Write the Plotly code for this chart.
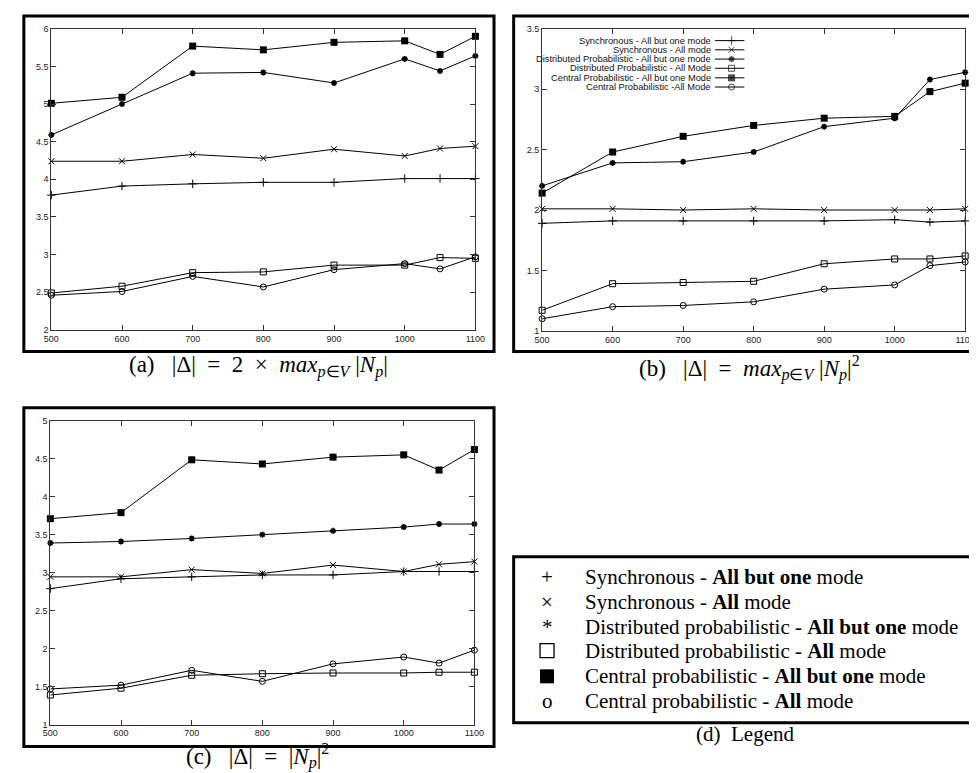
import plotly.graph_objects as go

# ---------------- data ----------------
x_nodes = [500, 600, 700, 800, 900, 1000, 1050, 1100]
x_ticks = [500, 600, 700, 800, 900, 1000, 1100]

# panel (a)  |Δ| = 2 × max |Np|
a_sync_abo = [3.79, 3.91, 3.94, 3.96, 3.96, 4.01, 4.01, 4.01]
a_sync_all = [4.24, 4.24, 4.33, 4.28, 4.40, 4.31, 4.41, 4.44]
a_dist_abo = [4.59, 5.00, 5.41, 5.42, 5.28, 5.60, 5.44, 5.64]
a_dist_all = [2.49, 2.58, 2.76, 2.77, 2.86, 2.86, 2.96, 2.95]
a_cent_abo = [5.01, 5.09, 5.77, 5.72, 5.82, 5.84, 5.66, 5.90]
a_cent_all = [2.46, 2.51, 2.71, 2.57, 2.80, 2.88, 2.81, 2.97]

# panel (b)  |Δ| = max |Np|^2
b_sync_abo = [1.89, 1.91, 1.91, 1.91, 1.91, 1.92, 1.90, 1.91]
b_sync_all = [2.01, 2.01, 2.00, 2.01, 2.00, 2.00, 2.00, 2.01]
b_dist_abo = [2.20, 2.39, 2.40, 2.48, 2.69, 2.76, 3.08, 3.14]
b_dist_all = [1.17, 1.39, 1.40, 1.41, 1.555, 1.595, 1.595, 1.62]
b_cent_abo = [2.14, 2.48, 2.61, 2.70, 2.76, 2.775, 2.98, 3.05]
b_cent_all = [1.10, 1.20, 1.21, 1.24, 1.345, 1.38, 1.54, 1.57]

# panel (c)  |Δ| = |Np|^2
c_sync_abo = [2.79, 2.92, 2.945, 2.97, 2.97, 3.015, 3.015, 3.015]
c_sync_all = [2.945, 2.945, 3.04, 2.99, 3.10, 3.015, 3.11, 3.145]
c_dist_abo = [3.39, 3.41, 3.45, 3.50, 3.55, 3.60, 3.64, 3.64]
c_dist_all = [1.39, 1.48, 1.65, 1.67, 1.68, 1.68, 1.69, 1.69]
c_cent_abo = [3.71, 3.79, 4.485, 4.43, 4.52, 4.55, 4.35, 4.62]
c_cent_all = [1.47, 1.52, 1.715, 1.57, 1.80, 1.89, 1.81, 1.98]

gp_legend_names = [
    "Synchronous - All but one mode",
    "Synchronous - All mode",
    "Distributed Probabilistic - All but one mode",
    "Distributed Probabilistic - All Mode",
    "Central Probabilistic - All but one Mode",
    "Central Probabilistic -All Mode",
]
legend_glyphs = ["+", "×", "*", "", "", "o"]
legend_texts = [
    "Synchronous - <b>All but one</b> mode",
    "Synchronous - <b>All</b> mode",
    "Distributed probabilistic - <b>All but one</b> mode",
    "Distributed probabilistic - <b>All</b> mode",
    "Central probabilistic - <b>All but one</b> mode",
    "Central probabilistic - <b>All</b> mode",
]
S = "&nbsp;"
captions = [
    "(a)" + S * 3 + "|Δ|" + S * 2 + "=" + S * 2 + "2" + S * 2 + "×" + S * 2
    + "<i>max</i><sub><i>p</i>∈<i>V</i></sub>" + S + "|<i>N</i><sub><i>p</i></sub>|",
    "(b)" + S * 3 + "|Δ|" + S * 2 + "=" + S * 2
    + "<i>max</i><sub><i>p</i>∈<i>V</i></sub>" + S + "|<i>N</i><sub><i>p</i></sub>|<sup>2</sup>",
    "(c)" + S * 3 + "|Δ|" + S * 2 + "=" + S * 2 + "|<i>N</i><sub><i>p</i></sub>|<sup>2</sup>",
    "(d)" + S * 2 + "Legend",
]
caption_sizes = [23, 23, 23, 21]

# ---------------- styles ----------------
W, H = 977, 773
styles = [
    dict(symbol="cross-thin-open", size=6, color="black", line=dict(width=1, color="black")),
    dict(symbol="x-thin-open", size=6, color="black", line=dict(width=1, color="black")),
    dict(symbol="asterisk-open", size=5, color="black", line=dict(width=1.6, color="black")),
    dict(symbol="square-open", size=6, color="black", line=dict(width=1, color="black")),
    dict(symbol="square", size=7, color="black", line=dict(width=0)),
    dict(symbol="circle-open", size=6, color="black", line=dict(width=1, color="black")),
]
# big square symbols of legend (d)
d_square_styles = [None, None, None,
                   dict(symbol="square-open", size=14, color="black",
                        line=dict(width=1.3, color="black")),
                   dict(symbol="square", size=14, color="black", line=dict(width=0)),
                   None]

def px_x(v):
    return v / W

def px_y(v):
    return 1 - v / H

panels = [
    dict(series=[a_sync_abo, a_sync_all, a_dist_abo, a_dist_all, a_cent_abo, a_cent_all],
         box=(36, 468, 16, 321), yr=[2, 6], yt=[2, 2.5, 3, 3.5, 4, 4.5, 5, 5.5, 6]),
    dict(series=[b_sync_abo, b_sync_all, b_dist_abo, b_dist_all, b_cent_abo, b_cent_all],
         box=(536, 967, 16, 322), yr=[1, 3.5], yt=[1, 1.5, 2, 2.5, 3, 3.5]),
    dict(series=[c_sync_abo, c_sync_all, c_dist_abo, c_dist_all, c_cent_abo, c_cent_all],
         box=(35, 467, 413, 721), yr=[1, 5], yt=[1, 1.5, 2, 2.5, 3, 3.5, 4, 4.5, 5]),
]

fig = go.Figure()
layout = dict(
    width=W, height=H, margin=dict(l=0, r=0, t=0, b=0),
    paper_bgcolor="white", plot_bgcolor="rgba(0,0,0,0)", showlegend=False,
)

tickfont = dict(family="Liberation Sans, Arial, sans-serif", size=9, color="#222")
for i, p in enumerate(panels):
    k = "" if i == 0 else str(i + 1)
    x0, x1, yt_, yb_ = p["box"]
    layout["xaxis" + k] = dict(
        domain=[px_x(x0), px_x(x1)], range=[500, 1100], tickvals=x_ticks,
        ticks="inside", ticklen=5, tickcolor="#333", showline=True, linecolor="#333",
        linewidth=1, mirror="ticks", showgrid=False, zeroline=False, tickfont=tickfont,
        anchor="y" + k,
    )
    layout["yaxis" + k] = dict(
        domain=[px_y(yb_), px_y(yt_)], range=p["yr"], tickvals=p["yt"],
        ticktext=[("%g" % v) for v in p["yt"]],
        ticks="inside", ticklen=5, tickcolor="#333", showline=True, linecolor="#333",
        linewidth=1, mirror="ticks", showgrid=False, zeroline=False, tickfont=tickfont,
        anchor="x" + k,
    )
    for s, st in zip(p["series"], styles):
        fig.add_trace(go.Scatter(
            x=x_nodes, y=s, mode="lines+markers",
            line=dict(color="black", width=1), marker=st,
            xaxis="x" + k, yaxis="y" + k, cliponaxis=False,
        ))

# overlay axis in pixel units for the key artwork
layout["xaxis4"] = dict(domain=[0, 1], range=[0, W], visible=False, anchor="y4", fixedrange=True)
layout["yaxis4"] = dict(domain=[0, 1], range=[H, 0], visible=False, anchor="x4", fixedrange=True)

# gnuplot style key inside panel (b)
key_rows = [28, 37.3, 46.7, 56, 65.7, 75]
annotations = []
for name, st, ry in zip(gp_legend_names, styles, key_rows):
    fig.add_trace(go.Scatter(
        x=[712, 729, 742], y=[ry, ry, ry], mode="lines+markers",
        line=dict(color="black", width=1),
        marker=dict(st, size=[0, st["size"], 0]),
        xaxis="x4", yaxis="y4", hoverinfo="skip",
    ))
    annotations.append(dict(
        x=px_x(710), y=px_y(ry), xref="paper", yref="paper", text=name,
        xanchor="right", yanchor="middle", showarrow=False,
        font=dict(family="Liberation Sans, Arial, sans-serif", size=9.3, color="#111"),
    ))

# legend (d)
serif = "Liberation Serif, Times New Roman, serif"
d_rows = [571, 597, 622, 646, 672, 697]
for g, sq, t, ry in zip(legend_glyphs, d_square_styles, legend_texts, d_rows):
    if sq is not None:
        fig.add_trace(go.Scatter(
            x=[541], y=[ry], mode="markers", marker=sq,
            xaxis="x4", yaxis="y4", hoverinfo="skip",
        ))
    else:
        annotations.append(dict(
            x=px_x(541), y=px_y(ry), xref="paper", yref="paper", text=g,
            xanchor="center", yanchor="middle", showarrow=False,
            font=dict(family=serif, size=21, color="black"),
        ))
    annotations.append(dict(
        x=px_x(578), y=px_y(ry), xref="paper", yref="paper", text=t,
        xanchor="left", yanchor="middle", showarrow=False,
        font=dict(family=serif, size=21, color="black"),
    ))

# captions
cap_pos = [(247, 358), (747, 360), (246, 753), (743, 730)]
for c, cs, (cx, cy) in zip(captions, caption_sizes, cap_pos):
    annotations.append(dict(
        x=px_x(cx), y=px_y(cy), xref="paper", yref="paper", text=c,
        xanchor="center", yanchor="middle", showarrow=False,
        font=dict(family=serif, size=cs, color="black"),
    ))

# frames
frames = [(8, 487, 3, 343), (507, 978, 3, 343), (8, 487, 400, 743), (507, 978, 551, 719)]
shapes = []
for fx0, fx1, fy0, fy1 in frames:
    shapes.append(dict(
        type="rect", xref="paper", yref="paper",
        x0=px_x(fx0), x1=px_x(fx1), y0=px_y(fy1), y1=px_y(fy0),
        line=dict(color="black", width=3), fillcolor="rgba(0,0,0,0)", layer="above",
    ))

layout["annotations"] = annotations
layout["shapes"] = shapes
fig.update_layout(**layout)
fig.write_html("out.html")
